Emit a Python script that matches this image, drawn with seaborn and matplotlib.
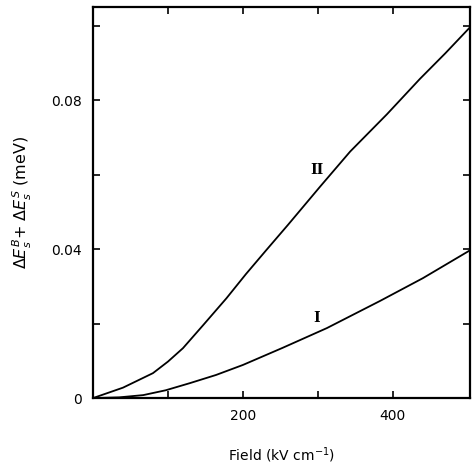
import numpy as np
import pandas as pd
import matplotlib
matplotlib.use('Agg')
import matplotlib.pyplot as plt
import seaborn as sns

# ---- DATA ----
field_II = [0, 40, 80, 100, 120, 147, 178, 204, 231, 260, 303, 343, 392, 436, 470, 503]
shift_II = [0, 0.0028, 0.0067, 0.0098, 0.0134, 0.0196, 0.0268, 0.0333, 0.0397, 0.0465,
            0.0568, 0.0662, 0.0762, 0.0857, 0.0926, 0.0996]

field_I = [0, 35, 67, 97, 129, 164, 200, 253, 312, 383, 440, 503]
shift_I = [0, 0.0002, 0.0008, 0.0021, 0.0040, 0.0062, 0.0089, 0.0135, 0.0188,
           0.0261, 0.0322, 0.0397]

xticks = [200, 400]
yticks = [0, 0.04, 0.08]
ytick_labels = ['0', '0.04', '0.08']

df = pd.concat([
    pd.DataFrame({'field': field_II, 'shift': shift_II, 'curve': 'II'}),
    pd.DataFrame({'field': field_I, 'shift': shift_I, 'curve': 'I'}),
])

# ---- PLOT ----
sns.set_style('ticks')
plt.rcParams['font.family'] = ['DejaVu Sans']
plt.rcParams['text.color'] = 'black'
plt.rcParams['axes.labelcolor'] = 'black'

fig = plt.figure(figsize=(4.72, 4.70), dpi=100)
ax = fig.add_axes([0.197, 0.153, 0.799, 0.832])

sns.lineplot(data=df, x='field', y='shift', hue='curve',
             palette={'I': 'black', 'II': 'black'}, linewidth=1.3,
             legend=False, ax=ax, estimator=None, sort=False)

ax.set_xlim(0, 503)
ax.set_ylim(0, 0.105)
ax.set_xticks(xticks)
ax.set_xticks([100, 300], minor=True)
ax.set_yticks(yticks)
ax.set_yticklabels(ytick_labels)
ax.set_yticks([0.02, 0.06, 0.10], minor=True)

for side in ['top', 'right', 'left', 'bottom']:
    ax.spines[side].set_visible(True)
    ax.spines[side].set_linewidth(1.6)
    ax.spines[side].set_color('black')

ax.tick_params(which='both', direction='in', top=True, right=True,
               length=5, width=1.2, colors='black', labelsize=10, pad=8)

ax.set_xlabel('Field (kV cm$^{-1}$)', fontsize=10, labelpad=16)
ax.set_ylabel(r'$\Delta E^{B}_{s}$+ $\Delta E^{S}_{s}$ (meV)', fontsize=11.5, labelpad=12)

ax.text(299, 0.0612, 'II', fontsize=10, fontweight='bold', family='serif',
        ha='center', va='center')
ax.text(298, 0.0215, 'I', fontsize=10, fontweight='bold', family='serif',
        ha='center', va='center')

fig.savefig('out.png', dpi=100)
